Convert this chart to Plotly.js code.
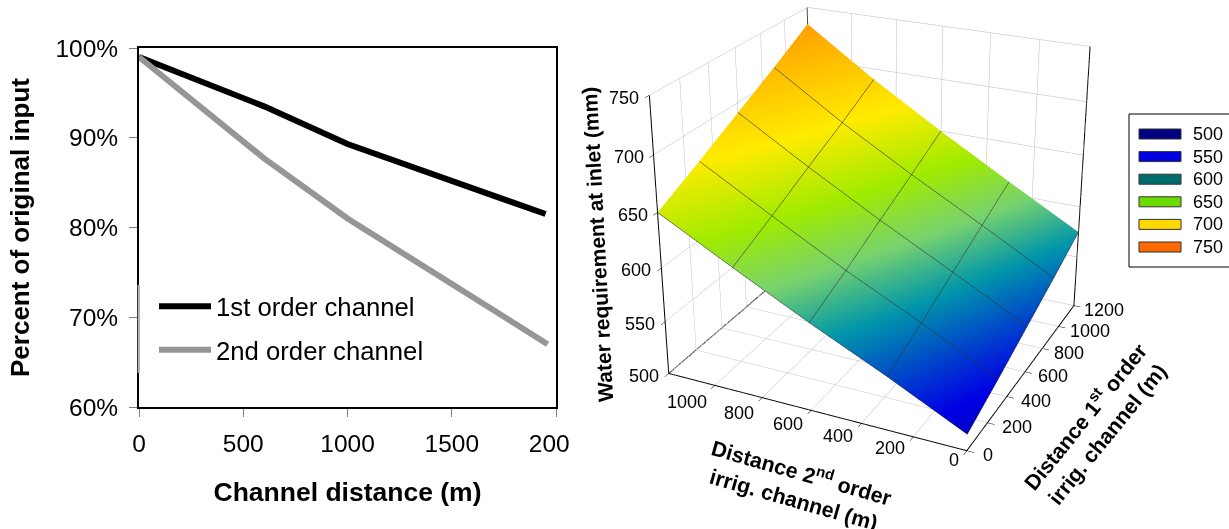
<!DOCTYPE html>
<html><head><meta charset="utf-8">
<script src="https://cdn.plot.ly/plotly-3.0.1.min.js"></script>
<style>html,body{margin:0;padding:0;background:#fff;overflow:hidden;width:1229px;height:529px}
#wrap{position:absolute;left:0;top:0;width:1229px;height:529px;overflow:hidden}
#right{position:absolute;left:-100px;top:-500px;width:1800px;height:1500px}
#left{position:absolute;left:0;top:0;width:569px;height:529px;overflow:hidden}</style>
</head><body><div id="wrap"><div id="right"></div><div id="left"></div></div>
<script>
const FONT='"Liberation Sans", Arial, sans-serif';
// left chart
const dist1=[0,600,1000,1950];
const order1=[99,93.5,89.3,81.5];
const dist2=[0,600,1000,1960];
const order2=[99,87.7,81,67];
const xTicks=[0,500,1000,1500,2000];
const yTicks=[60,70,80,90,100];
const yLabels=['60%','70%','80%','90%','100%'];
// surface chart
const dist1st=[0,300,600,900,1200];
const dist2nd=[0,300,600,900,1200];
const water=[
 [515,529,544,559,575],
 [549,564,580,596,612],
 [581,597,615,632,650],
 [615,633,652,670,690],
 [650,670,691,712,734]];
const tick1st=[0,200,400,600,800,1000,1200];
const tick2nd=[0,200,400,600,800,1000];
const tickZ=[500,550,600,650,700,750];
const legendLabels=['500','550','600','650','700','750'];
const legendColors=['#000080','#0000e0','#006d6d','#6adc00','#ffd800','#ff6a00'];
const zColorStops=[[500,'#00009a'],[525,'#0000e6'],[572,'#0096aa'],[600,'#78d26e'],[630,'#a0eb00'],[670,'#ffeb00'],[750,'#ff8c00']];
const boxX=[0,0,null,1200,1200,null,1200,1200,null,0,1200,null,1200,1200,null,0,1200,null,0,0,null,0,1200];
const boxY=[1200,1200,null,1200,1200,null,0,0,null,1200,1200,null,0,1200,null,0,0,null,0,1200,null,1200,1200];
const boxZ=[500,750,null,500,750,null,500,750,null,750,750,null,750,750,null,500,500,null,500,500,null,500,500];

Plotly.newPlot('left',[
 {x:dist1,y:order1,mode:'lines',name:'1st order channel',legendgroup:'a',line:{color:'#000',width:6}},
 {x:dist2,y:order2,mode:'lines',name:'2nd order channel',legendgroup:'b',line:{color:'#969696',width:6}}
],{
 width:569,height:529,margin:{l:139,r:13,t:48,b:122},
 paper_bgcolor:'rgba(0,0,0,0)',plot_bgcolor:'rgba(0,0,0,0)',
 font:{family:FONT,size:24.5,color:'#000'},
 shapes:[
  {type:'line',xref:'paper',yref:'paper',x0:0,x1:0,y0:0.095,y1:0.34,line:{color:'#fff',width:2.5},layer:'above'},
  {type:'line',xref:'paper',yref:'paper',x0:0,x1:0,y0:0.095,y1:0.34,line:{color:'#808080',width:1.2},layer:'above'}],
 xaxis:{range:[0,2000],tickvals:xTicks,ticks:'outside',ticklen:8,tickcolor:'#808080',showgrid:false,zeroline:false,ticklabelstandoff:6,ticklabeloverflow:'allow',
  showline:true,linecolor:'#000',linewidth:2,mirror:true,
  title:{text:'<b>Channel distance (m)</b>',font:{size:26.5},standoff:26}},
 yaxis:{range:[60,100],tickvals:yTicks,ticktext:yLabels,ticks:'outside',ticklen:8,tickcolor:'#808080',showgrid:false,zeroline:false,ticklabelstandoff:6,
  showline:true,linecolor:'#000',linewidth:2,mirror:true,
  title:{text:'<b>Percent of original input</b>',font:{size:26},standoff:18}},
 legend:{x:0.036,y:0.345,xanchor:'left',yanchor:'top',bgcolor:'rgba(0,0,0,0)',font:{size:25.7},itemwidth:52,tracegroupgap:7}
},{displayModeBar:false});

const W=1800,H=1500,OX=-100,OY=-500;
const px=v=>(v-OX)/W, py=v=>1-(v-OY)/H;
const annos=[
 {text:'<b>Water requirement at inlet (mm)</b>',x:px(598),y:py(245),textangle:-93,size:21},
 {text:'<b>Distance 2<sup>nd</sup> order<br>irrig. channel (m)</b>',x:px(798),y:py(485),textangle:16,size:21.4},
 {text:'<b>Distance 1<sup>st</sup> order<br>irrig. channel (m)</b>',x:px(1095),y:py(425),textangle:-51,size:21.4}
].map(a=>({xref:'paper',yref:'paper',x:a.x,y:a.y,text:a.text,textangle:a.textangle,showarrow:false,font:{size:a.size,family:FONT,color:'#000'}}));
const shapes=[{type:'rect',xref:'paper',yref:'paper',x0:px(1129),x1:px(1240),y0:py(114),y1:py(267),line:{color:'#000',width:1},fillcolor:'#fff'}];
legendLabels.forEach((l,i)=>{
 const cy=134+i*22.6;
 shapes.push({type:'rect',xref:'paper',yref:'paper',x0:px(1139),x1:px(1181),y0:py(cy-5),y1:py(cy+5),line:{color:'#333',width:1},fillcolor:legendColors[i]});
 annos.push({xref:'paper',yref:'paper',x:px(1191),y:py(cy),xanchor:'left',yanchor:'middle',text:l,showarrow:false,font:{size:18,family:FONT,color:'#000'}});
});
const sceneAnn=[];
const base={showarrow:false,font:{family:FONT,size:18,color:'#000'}};
tick1st.forEach(v=>sceneAnn.push({...base,x:v,y:0,z:500,text:String(v),xanchor:'left',yanchor:'middle',xshift:14-v/200,yshift:-5}));
tick2nd.forEach(v=>sceneAnn.push({...base,x:0,y:v,z:500,text:String(v),xanchor:'right',yanchor:'middle',xshift:-6,yshift:-10-v*0.007}));
tickZ.forEach(v=>sceneAnn.push({...base,x:0,y:1200,z:v,text:String(v),xanchor:'right',yanchor:'middle',xshift:-8,yshift:-3}));
const ax=(vals)=>({tickvals:vals,ticks:'outside',ticklen:6,tickcolor:'#000',showticklabels:false,title:{text:''},
 showbackground:false,showgrid:true,gridcolor:'#bbbbbb',gridwidth:1,zeroline:false,showline:true,linecolor:'#000',linewidth:2,showspikes:false});
const sc={cx:880,cy:209,h:1207,w:1500};
Plotly.newPlot('right',[
 {type:'surface',x:dist1st,y:dist2nd,z:water,cmin:500,cmax:750,showscale:false,
  colorscale:zColorStops.map(s=>[(s[0]-500)/250,s[1]]),
  lighting:{ambient:1,diffuse:0,specular:0,roughness:1,fresnel:0},
  contours:{x:{show:true,start:0,end:1200,size:300,color:'#333',width:2},y:{show:true,start:0,end:1200,size:300,color:'#333',width:2},z:{show:false}},hoverinfo:'skip'},
 {type:'scatter3d',mode:'lines',x:boxX,y:boxY,z:boxZ,line:{color:'#000',width:2},hoverinfo:'skip',showlegend:false}
],{
 width:W,height:H,margin:{l:0,r:0,t:0,b:0},paper_bgcolor:'#fff',font:{family:FONT},
 annotations:annos,shapes:shapes,showlegend:false,
 scene:{domain:{x:[px(sc.cx-sc.w/2),px(sc.cx+sc.w/2)],y:[py(sc.cy+sc.h/2),py(sc.cy-sc.h/2)]},
  aspectmode:'manual',aspectratio:{x:1.06,y:1.10,z:1.01},
  camera:{eye:{x:-4.12,y:-1.94,z:2.07},center:{x:0,y:0,z:0},up:{x:0,y:0,z:1}},
  xaxis:{...ax(tick1st),range:[0,1200]},
  yaxis:{...ax([0,200,400,600,800,1000,1200]),range:[0,1200]},
  zaxis:{...ax(tickZ),range:[500,750]},
  annotations:sceneAnn}
},{displayModeBar:false});
</script></body></html>
